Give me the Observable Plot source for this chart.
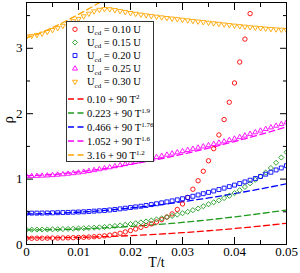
<!DOCTYPE html>
<html>
<head>
<meta charset="utf-8">
<script src="https://cdn.jsdelivr.net/npm/d3@7"></script>
<script src="https://cdn.jsdelivr.net/npm/@observablehq/plot@0.6"></script>
<style>
  body { margin: 0; background: #fff; }
  #wrap { position: relative; width: 300px; height: 273px; font-family: "Liberation Serif", "Times New Roman", serif; }
  #legend { position: absolute; left: 66px; top: 21px; }
</style>
</head>
<body>
<div id="wrap"></div>
<script>
// ---- data ----
const T = [0,0.001,0.002,0.003,0.004,0.005,0.006,0.007,0.008,0.009,0.010,0.011,0.012,0.013,0.014,0.015,0.016,0.017,0.018,0.019,0.020,0.021,0.022,0.023,0.024,0.025,0.026,0.027,0.028,0.029,0.030,0.031,0.032,0.033,0.034,0.035,0.036,0.037,0.038,0.039,0.040,0.041,0.042,0.043,0.044,0.045,0.046,0.047,0.048,0.049,0.050];

const rhoU010 = [0.095,0.095,0.096,0.096,0.097,0.098,0.099,0.100,0.102,0.104,0.107,0.110,0.114,0.119,0.125,0.132,0.142,0.155,0.172,0.192,0.213,0.237,0.263,0.290,0.315,0.345,0.380,0.420,0.468,0.535,0.620,0.720,0.845,0.975,1.120,1.280,1.465,1.675,1.910,2.175,2.470,2.790,3.140,3.530];
const rhoU015 = [0.227,0.227,0.228,0.229,0.230,0.232,0.234,0.236,0.239,0.242,0.245,0.249,0.253,0.257,0.262,0.268,0.275,0.283,0.292,0.302,0.313,0.325,0.338,0.352,0.367,0.383,0.400,0.418,0.437,0.457,0.478,0.500,0.525,0.550,0.585,0.615,0.645,0.675,0.710,0.745,0.785,0.830,0.880,0.935,0.990,1.040,1.100,1.170,1.250,1.330,1.410];
const rhoU020 = [0.480,0.480,0.480,0.481,0.482,0.484,0.486,0.488,0.491,0.494,0.497,0.500,0.505,0.510,0.515,0.520,0.528,0.535,0.545,0.555,0.565,0.575,0.585,0.597,0.610,0.623,0.637,0.652,0.667,0.683,0.700,0.718,0.737,0.757,0.777,0.797,0.818,0.840,0.862,0.885,0.908,0.932,0.957,0.983,1.010,1.040,1.075,1.105,1.140,1.170,1.205];
const rhoU025 = [1.045,1.046,1.048,1.051,1.055,1.060,1.066,1.073,1.081,1.090,1.100,1.111,1.123,1.136,1.150,1.165,1.180,1.196,1.212,1.229,1.246,1.264,1.282,1.300,1.318,1.336,1.354,1.372,1.390,1.408,1.426,1.444,1.462,1.480,1.498,1.517,1.536,1.555,1.575,1.596,1.618,1.641,1.665,1.690,1.715,1.740,1.765,1.790,1.815,1.840,1.867];
const rhoU030 = [3.180,3.190,3.205,3.225,3.250,3.280,3.310,3.345,3.380,3.415,3.450,3.490,3.530,3.565,3.590,3.600,3.598,3.585,3.570,3.555,3.540,3.528,3.516,3.505,3.494,3.484,3.474,3.464,3.455,3.446,3.437,3.428,3.419,3.410,3.401,3.392,3.383,3.374,3.365,3.356,3.347,3.339,3.331,3.323,3.316,3.309,3.302,3.296,3.290,3.285,3.280];

// dashed fit curves
const Tfit = [0,0.005,0.010,0.015,0.020,0.025,0.030,0.035,0.040,0.045,0.050];
const fit010 = [0.100,0.102,0.109,0.120,0.136,0.156,0.181,0.210,0.244,0.282,0.325];
const fit0223 = [0.223,0.227,0.237,0.254,0.276,0.304,0.338,0.377,0.422,0.472,0.527];
const fit0466 = [0.466,0.474,0.493,0.521,0.558,0.602,0.654,0.712,0.778,0.850,0.928];
const fit1052 = [1.052,1.071,1.109,1.161,1.224,1.298,1.381,1.474,1.574,1.682,1.797];
const TfitOrange = [0,0.0025,0.005,0.0075,0.010,0.0125,0.015];
const fit316 = [3.160,3.228,3.316,3.414,3.518,3.628,3.743];

const xMajor = [0,0.01,0.02,0.03,0.04,0.05];
const xLabels = ["0","0.01","0.02","0.03","0.04","0.05"];
const xMinor = [0.005,0.015,0.025,0.035,0.045];
const yMajor = [0,1,2,3];
const yLabels = ["0","1","2","3"];
const yMinor = [0.5,1.5,2.5,3.5];

const markerNames = ["0.10","0.15","0.20","0.25","0.30"];
const fitNames = [["0.10 + 90 T","2"],["0.223 + 90 T","1.9"],["0.466 + 90 T","1.76"],["1.052 + 90 T","1.6"],["3.16 + 90 T","1.2"]];

// ---- styles ----
const colors = ["#ff0000","#1f9a1f","#0000ff","#ff00ff","#ffa500"];
const sqrt3 = Math.sqrt(3);
const triangleDown = {
  draw(context, size) {
    const s = Math.sqrt(size) * 0.6824, t = s / 2, u = s * sqrt3 / 2;
    context.moveTo(0, s); context.lineTo(u, -t); context.lineTo(-u, -t); context.closePath();
  }
};
const symbols = ["circle","diamond2","square2","triangle2",triangleDown];
const radii = [2.2,2.3,2.5,2.4,2.4];
const dash = "6,3.5";
const series = [rhoU010, rhoU015, rhoU020, rhoU025, rhoU030];
const fits = [[Tfit,fit010],[Tfit,fit0223],[Tfit,fit0466],[Tfit,fit1052],[TfitOrange,fit316]];

const marks = [];
fits.forEach(([tx, fy], i) => {
  marks.push(Plot.line(fy, {x: tx, y: fy, stroke: colors[i], strokeWidth: 1.3, strokeDasharray: dash, curve: "natural", clip: true}));
});
series.forEach((s, i) => {
  marks.push(Plot.dot(s, {x: T.slice(0, s.length), y: s, symbol: symbols[i], r: radii[i], stroke: colors[i], fill: "none", strokeWidth: 0.9, clip: true}));
});
for (const anchor of ["bottom","top"]) {
  marks.push(Plot.axisX({anchor, ticks: xMajor, tickSize: -7, fill: "none", label: null}));
  marks.push(Plot.axisX({anchor, ticks: xMinor, tickSize: -4, fill: "none", label: null}));
}
for (const anchor of ["left","right"]) {
  marks.push(Plot.axisY({anchor, ticks: yMajor, tickSize: -7, fill: "none", label: null}));
  marks.push(Plot.axisY({anchor, ticks: yMinor, tickSize: -4, fill: "none", label: null}));
}
marks.push(Plot.axisX({anchor: "bottom", ticks: xMajor, tickSize: 0, tickPadding: 2, tickFormat: (d, i) => xLabels[i], label: null, fontSize: 13}));
marks.push(Plot.axisY({anchor: "left", ticks: yMajor, tickSize: 0, tickPadding: 4, tickFormat: (d, i) => yLabels[i], label: null, fontSize: 13}));
marks.push(Plot.text(["T/t"], {frameAnchor: "bottom", dy: 22, fontSize: 14}));
marks.push(Plot.text(["ρ"], {frameAnchor: "left", dx: -18, rotate: -90, fontSize: 15}));
marks.push(Plot.frame({stroke: "black", strokeWidth: 1}));

const chart = Plot.plot({
  width: 300, height: 273,
  marginLeft: 26, marginRight: 14, marginTop: 2, marginBottom: 29,
  x: {domain: [0, 0.05]},
  y: {domain: [0, 3.7]},
  style: {fontFamily: "'Liberation Serif', 'Times New Roman', serif", fontSize: "13px", background: "white", color: "black"},
  marks
});
const wrap = document.getElementById("wrap");
wrap.appendChild(chart);

// ---- legend box (inside the plot area) ----
const lw = 88, lh = 141;
const leg = d3.select(wrap).append("svg").attr("id", "legend").attr("width", lw).attr("height", lh)
  .style("font-family", "'Liberation Serif', 'Times New Roman', serif").style("font-size", "10.5px");
leg.append("rect").attr("x", 0.5).attr("y", 0.5).attr("width", lw - 1).attr("height", lh - 1)
  .attr("fill", "white").attr("stroke", "#333").attr("stroke-width", 1);
const markerRows = [8.3, 21.4, 34.5, 47.6, 60.7];
const lineRows = [78, 92, 106, 120, 134];
const symGen = [d3.symbolCircle, d3.symbolDiamond2, d3.symbolSquare2, d3.symbolTriangle2, triangleDown];
markerNames.forEach((name, i) => {
  const y = markerRows[i];
  leg.append("path").attr("d", d3.symbol(symGen[i], Math.PI * radii[i] * radii[i])())
    .attr("transform", `translate(9,${y})`).attr("fill", "none").attr("stroke", colors[i]).attr("stroke-width", 0.9);
  const t = leg.append("text").attr("x", 21).attr("y", y + 3.5);
  t.append("tspan").text("U");
  t.append("tspan").attr("dy", 2.5).attr("font-size", "7px").text("cd");
  t.append("tspan").attr("dy", -2.5).text(" = " + name + " U");
});
fitNames.forEach(([base, exp], i) => {
  const y = lineRows[i];
  leg.append("line").attr("x1", 2).attr("x2", 18).attr("y1", y).attr("y2", y)
    .attr("stroke", colors[i]).attr("stroke-width", 1.3).attr("stroke-dasharray", dash);
  const t = leg.append("text").attr("x", 21).attr("y", y + 3.5);
  t.append("tspan").text(base);
  t.append("tspan").attr("dy", -4).attr("font-size", "7px").text(exp);
});
</script>
</body>
</html>
